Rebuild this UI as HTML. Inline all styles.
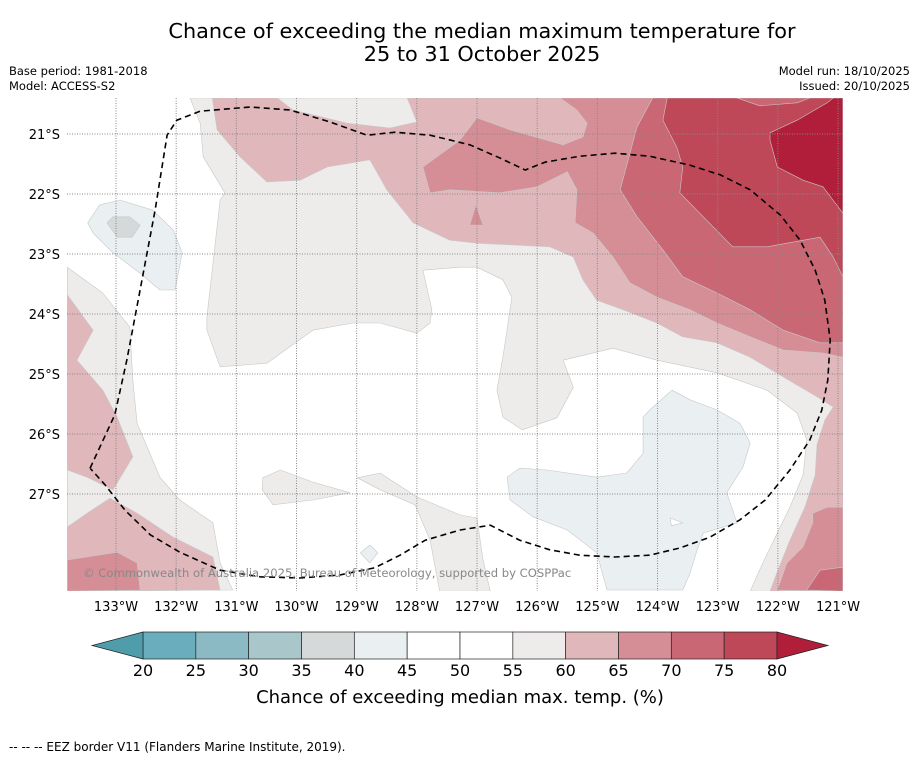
<!DOCTYPE html>
<html><head><meta charset="utf-8">
<style>
body{margin:0;background:#fff;width:919px;height:758px;overflow:hidden;font-family:"Liberation Sans","DejaVu Sans",sans-serif;}
svg text{font-family:"DejaVu Sans","Liberation Sans",sans-serif;}
</style></head>
<body>
<svg id="chart" width="919" height="758" xmlns="http://www.w3.org/2000/svg">
  <text x="482" y="38" font-size="20.8" text-anchor="middle" fill="#000">Chance of exceeding the median maximum temperature for</text>
  <text x="482" y="61" font-size="20.8" text-anchor="middle" fill="#000">25 to 31 October 2025</text>
  <text x="9" y="75" font-size="11.5">Base period: 1981-2018</text>
  <text x="9" y="90" font-size="11.5">Model: ACCESS-S2</text>
  <text x="910" y="75" font-size="11.5" text-anchor="end">Model run: 18/10/2025</text>
  <text x="910" y="90" font-size="11.5" text-anchor="end">Issued: 20/10/2025</text>
  <defs><clipPath id="mapclip"><rect x="67" y="98" width="776" height="493"/></clipPath></defs>
  <g id="map" clip-path="url(#mapclip)"></g>
  <g id="grid"></g>
  <g id="eez"></g>
  <text x="83" y="577" font-size="11.6" fill="#888">© Commonwealth of Australia 2025, Bureau of Meteorology, supported by COSPPac</text>
  <g id="xaxis"></g>
  <g id="yaxis"></g>
  <g id="cbar"></g>
  <text x="460" y="703" font-size="18" text-anchor="middle">Chance of exceeding median max. temp. (%)</text>
  <text x="9" y="751" font-size="12">--  --  -- EEZ border V11 (Flanders Marine Institute, 2019).</text>
</svg>
<script>
// ---- data ----
const lonTicks = [133,132,131,130,129,128,127,126,125,124,123,122,121];
const latTicks = [21,22,23,24,25,26,27];
const cbarLevels = [20,25,30,35,40,45,50,55,60,65,70,75,80];
const cbarColors = ["#6aaebd","#8bbac5","#a9c6ca","#d5d9d9","#eaeff1","#ffffff","#ffffff","#eeecea","#e0b7bb","#d58e96","#c96874","#bf4858"];
const lowColor = "#4f9dab";
const highColor = "#b01e3a";
const regions = [
 ["#eeecea", [[131.77,20.40],[131.60,20.82],[131.55,21.38],[131.19,21.98],[131.27,22.10],[131.49,24.05],[131.49,24.27],[131.27,24.88],[130.49,24.82],[129.73,24.27],[129.06,24.15],[128.61,24.15],[128.00,24.32],[127.78,24.15],[127.75,23.93],[127.90,23.27],[127.28,23.22],[127.00,23.22],[126.57,23.43],[126.42,23.72],[126.57,24.72],[126.67,25.27],[126.57,25.72],[126.25,25.93],[125.67,25.73],[125.40,25.22],[125.57,24.77],[124.74,24.57],[124.01,24.77],[123.01,24.98],[122.18,25.27],[121.68,25.65],[121.52,26.10],[121.58,26.68],[121.80,27.22],[122.01,27.65],[122.25,28.15],[122.46,28.62],[120.92,28.62],[120.92,20.40]]],
 ["#eeecea", [[130.56,26.73],[130.27,26.60],[129.73,26.80],[129.11,26.98],[129.73,27.10],[130.39,27.18],[130.57,26.93]]],
 ["#eeecea", [[128.99,26.73],[128.61,26.65],[128.00,27.05],[127.28,27.35],[127.00,27.40],[126.90,28.10],[126.78,28.62],[127.62,28.62],[127.78,27.77],[128.03,27.18],[128.61,26.93]]],
 ["#eeecea", [[133.81,23.22],[133.22,23.65],[132.77,24.22],[132.72,25.10],[132.65,25.82],[132.27,26.72],[131.94,27.10],[131.39,27.48],[131.27,28.15],[131.06,28.60],[133.81,28.62]]],
 ["#e0b7bb", [[133.81,23.68],[133.38,24.27],[133.65,24.77],[133.22,25.27],[132.98,25.72],[132.72,26.38],[133.05,26.93],[133.48,26.72],[133.81,26.60]]],
 ["#e0b7bb", [[133.81,27.55],[133.48,27.32],[133.10,27.07],[132.65,27.32],[132.05,27.72],[131.39,28.05],[131.27,28.60],[133.81,28.62]]],
 ["#d58e96", [[133.81,28.10],[132.98,27.97],[132.65,28.15],[132.60,28.60],[133.81,28.62]]],
 ["#e0b7bb", [[131.40,20.40],[131.32,20.93],[130.94,21.38],[130.49,21.80],[129.94,21.77],[129.49,21.55],[128.78,21.43],[128.50,21.93],[128.06,22.48],[127.45,22.77],[127.00,22.82],[125.79,22.88],[125.40,23.05],[125.24,23.43],[125.01,23.77],[124.57,23.93],[124.01,24.15],[123.58,24.38],[123.01,24.48],[122.46,24.72],[121.91,25.05],[121.35,25.38],[121.08,25.55],[121.22,25.77],[121.35,26.18],[121.38,26.68],[121.55,27.22],[121.80,27.77],[122.00,28.27],[122.13,28.62],[120.92,28.62],[120.92,20.40]]],
 ["#eeecea", [[130.32,20.40],[130.06,20.60],[129.16,20.82],[128.45,20.90],[128.00,20.80],[128.16,20.40]]],
 ["#d58e96", [[127.78,21.98],[127.90,21.55],[127.28,21.10],[127.00,20.73],[126.45,20.93],[125.57,21.18],[125.24,21.05],[125.17,20.82],[125.34,20.60],[125.62,20.40],[120.92,20.40],[120.92,24.72],[121.25,24.65],[121.91,24.60],[122.46,24.38],[123.01,24.15],[123.46,23.93],[124.01,23.72],[124.46,23.48],[124.74,23.05],[125.07,22.65],[125.37,22.48],[125.34,21.93],[125.50,21.63],[126.00,21.88],[126.62,21.98],[127.45,21.93]]],
 ["#d58e96", [[121.42,27.32],[121.18,27.22],[120.92,27.22],[120.92,28.62],[122.01,28.60],[121.85,28.15],[121.58,27.88],[121.42,27.48]]],
 ["#d58e96", [[127.12,22.52],[127.02,22.18],[126.90,22.52]]],
 ["#c96874", [[124.08,20.40],[120.92,20.40],[120.92,24.48],[121.30,24.48],[121.91,24.27],[122.46,23.93],[123.01,23.65],[123.58,23.38],[123.91,22.93],[124.34,22.38],[124.62,21.93],[124.34,20.88]]],
 ["#c96874", [[121.52,28.60],[121.30,28.27],[120.92,28.22],[120.92,28.62]]],
 ["#bf4858", [[123.84,20.40],[120.92,20.40],[120.92,23.38],[121.08,23.05],[121.30,22.72],[122.18,22.88],[122.75,22.88],[123.24,22.38],[123.63,21.98],[123.58,21.55],[123.68,21.22],[123.91,20.77]]],
 ["#c96874", [[122.68,20.40],[122.30,20.53],[121.68,20.48],[121.47,20.40]]],
 ["#b01e3a", [[122.13,20.98],[121.68,20.77],[121.18,20.48],[121.08,20.40],[120.92,20.40],[120.92,22.32],[121.25,21.88],[121.58,21.77],[122.01,21.55],[122.13,21.10]]],
 ["#eaeff1", [[124.13,25.60],[123.76,25.27],[123.46,25.43],[123.01,25.60],[122.63,25.82],[122.46,26.15],[122.58,26.55],[122.85,26.98],[122.68,27.48],[123.24,27.65],[123.34,27.93],[123.46,28.32],[123.58,28.60],[124.84,28.60],[125.01,27.98],[125.50,27.60],[126.07,27.38],[126.45,27.10],[126.50,26.72],[126.29,26.57],[125.84,26.60],[125.01,26.72],[124.51,26.65],[124.24,26.32],[124.24,25.72]]],
 ["#ffffff", [[123.79,27.40],[123.58,27.48],[123.77,27.53]]],
 ["#eaeff1", [[133.47,22.48],[133.27,22.18],[132.93,22.10],[132.39,22.27],[132.05,22.60],[131.90,22.98],[132.02,23.60],[132.27,23.60],[132.60,23.32],[133.05,22.98],[133.38,22.65]]],
 ["#d5d9d9", [[133.15,22.48],[133.05,22.38],[132.77,22.38],[132.60,22.52],[132.73,22.72],[132.98,22.72]]],
 ["#eaeff1", [[128.94,27.98],[128.78,27.85],[128.65,27.98],[128.78,28.15]]]
];
const eezLine = [[133.43,26.57],[133.02,25.68],[132.82,24.77],[132.60,23.60],[132.35,22.27],[132.15,21.02],[131.99,20.77],[131.60,20.62],[130.77,20.55],[130.11,20.60],[129.44,20.80],[128.83,21.02],[128.36,20.97],[127.78,21.02],[127.12,21.18],[126.62,21.40],[126.20,21.60],[125.87,21.47],[125.29,21.37],[124.71,21.32],[124.13,21.37],[123.46,21.52],[122.96,21.68],[122.46,21.93],[121.96,22.35],[121.63,22.77],[121.38,23.27],[121.22,23.77],[121.13,24.43],[121.17,25.10],[121.27,25.60],[121.47,26.10],[121.80,26.60],[122.21,27.10],[122.63,27.43],[123.13,27.72],[123.63,27.90],[124.13,28.02],[124.71,28.05],[125.29,28.02],[125.79,27.93],[126.29,27.77],[126.78,27.52],[127.28,27.60],[127.86,27.77],[128.28,28.02],[128.70,28.23],[129.28,28.35],[129.94,28.40],[130.61,28.38],[131.27,28.27],[131.94,27.97],[132.43,27.68],[132.85,27.27],[133.18,26.85],[133.43,26.57]];

// ---- axis functions ----
const X = lon => 116 + (133 - lon) * 60.17;
const Y = lat => 134 + (lat - 21) * 60;
const CB = v => 143 + (v - 20) * (634 / 60);
const NS = "http://www.w3.org/2000/svg";
function mk(tag, attrs, parent){const e=document.createElementNS(NS,tag);for(const k in attrs)e.setAttribute(k,attrs[k]);parent.appendChild(e);return e;}
const pts = arr => arr.map(p => X(p[0]).toFixed(1)+","+Y(p[1]).toFixed(1)).join(" ");

const map = document.getElementById("map");
const bg = mk("rect",{x:67,y:98,width:776,height:493,fill:"#ffffff"},map);


regions.forEach((r,i)=>{
  const p = mk("polygon",{points:pts(r[1]),fill:r[0],stroke:"#c8c8c8","stroke-width":0.6,"stroke-linejoin":"round"},map);
  
  
});

const grid = document.getElementById("grid");
lonTicks.forEach(l=>{
  const ln = mk("line",{x1:X(l),x2:X(l),y1:98,y2:591,stroke:"#888","stroke-width":1,"stroke-dasharray":"1,1.5"},grid);
  
  
});
latTicks.forEach(l=>{
  const ln = mk("line",{x1:67,x2:843,y1:Y(l),y2:Y(l),stroke:"#888","stroke-width":1,"stroke-dasharray":"1,1.5"},grid);
  
  
});

const eez = mk("polyline",{points:pts(eezLine),fill:"none",stroke:"#000","stroke-width":1.6,"stroke-dasharray":"6,4"},document.getElementById("eez"));



const xa = document.getElementById("xaxis");
lonTicks.forEach(l=>{
  const t = mk("text",{x:X(l),y:611,"font-size":13,"text-anchor":"middle"},xa);
  t.textContent = l+"°W";
  
  
});
const ya = document.getElementById("yaxis");
latTicks.forEach(l=>{
  const t = mk("text",{x:60,y:Y(l)+5,"font-size":13,"text-anchor":"end"},ya);
  t.textContent = l+"°S";
  
  
});

const cb = document.getElementById("cbar");
cbarColors.forEach((c,i)=>{
  const r = mk("rect",{x:CB(cbarLevels[i]),y:632,width:CB(cbarLevels[i+1])-CB(cbarLevels[i]),height:27,fill:c,stroke:"#222","stroke-width":0.7},cb);
  
  
});
const lt = mk("polygon",{points:`${CB(20)},632 ${CB(20)},659 92,645.5`,fill:lowColor,stroke:"#222","stroke-width":0.7},cb);


const ht = mk("polygon",{points:`${CB(80)},632 ${CB(80)},659 828,645.5`,fill:highColor,stroke:"#222","stroke-width":0.7},cb);


cbarLevels.forEach(v=>{
  const t = mk("text",{x:CB(v),y:676,"font-size":16,"text-anchor":"middle"},cb);
  t.textContent = v;
  
  
});
</script>
</body></html>
